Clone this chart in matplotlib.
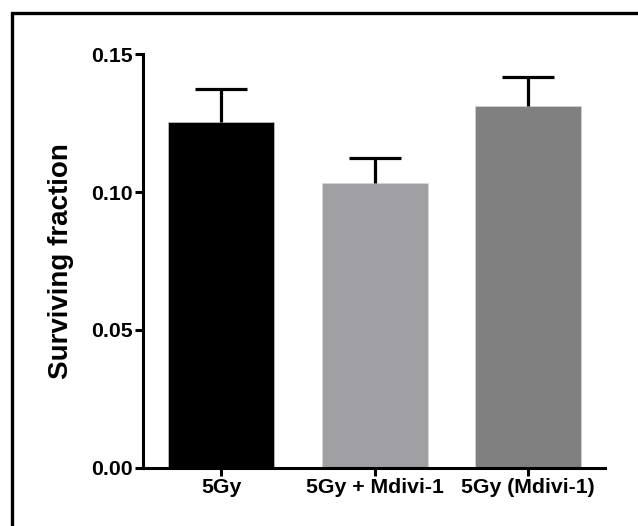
import numpy as np
import matplotlib
matplotlib.use("Agg")
import matplotlib.pyplot as plt
from matplotlib.patches import Rectangle

plt.rcParams['font.family'] = ['Liberation Sans', 'DejaVu Sans']

# Surviving fraction after 5 Gy, with and without Mdivi-1
groups = ["5Gy", "5Gy + Mdivi-1", "5Gy (Mdivi-1)"]
means = [0.1253, 0.1033, 0.1312]
sems = [0.0120, 0.0089, 0.0105]
bar_colors = ["#000000", "#A0A0A4", "#808080"]

fig = plt.figure(figsize=(6.38, 5.26), dpi=100)
ax = fig.add_axes([0.2241, 0.1103, 0.7239, 0.7870])

x = np.arange(len(groups))
means = np.array(means)
tops = means + np.array(sems)
ax.bar(x, means, width=0.69, color=bar_colors, edgecolor="#d8d8d8", linewidth=0.4, zorder=2)

# upper error bars only (stem + cap)
cap_half = 0.17
ax.vlines(x, means, tops, colors="black", linewidth=2.3, zorder=3)
ax.hlines(tops, x - cap_half, x + cap_half, colors="black", linewidth=2.3, zorder=3)

ax.set_xlim(-0.51, 2.5)
ax.set_ylim(0, 0.15)
ax.set_yticks([0.00, 0.05, 0.10, 0.15])
ax.set_yticklabels(["0.00", "0.05", "0.10", "0.15"])
ax.set_xticks(x)
ax.set_xticklabels(groups)

for side in ["top", "right"]:
    ax.spines[side].set_visible(False)
for side in ["left", "bottom"]:
    ax.spines[side].set_linewidth(2.2)
ax.tick_params(axis="both", width=2.2, length=5.5, labelsize=15.3, pad=2)
for lab in ax.get_xticklabels() + ax.get_yticklabels():
    lab.set_fontweight("bold")

ax.set_ylabel("Surviving fraction", fontsize=20, fontweight="bold", labelpad=12)

# outer frame around the figure
fig.patches.append(Rectangle((0.0188, -0.1), 1.1, 1.076, transform=fig.transFigure,
                             fill=False, edgecolor="black", linewidth=2.4))

fig.savefig("out.png", dpi=100)
